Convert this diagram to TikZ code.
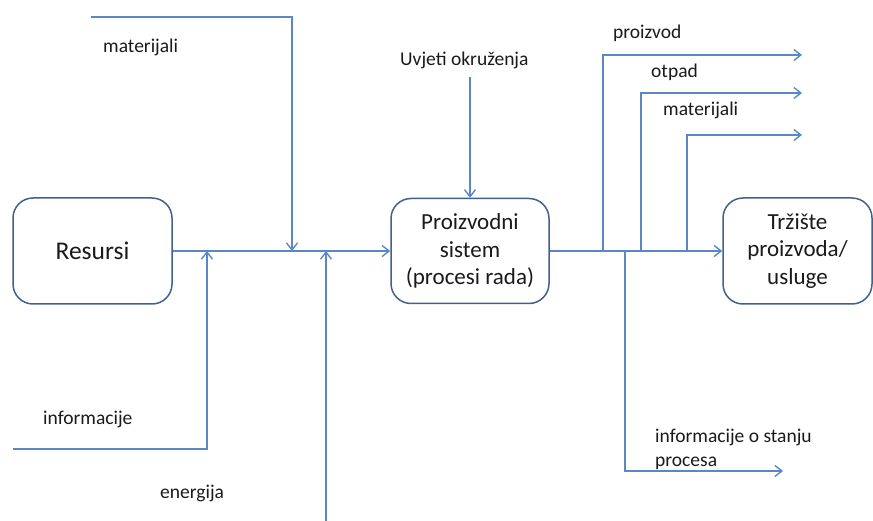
\documentclass[tikz,border=0pt]{standalone}
\usepackage{fontspec}
\setmainfont{Carlito}
\usetikzlibrary{arrows.meta}
\definecolor{linec}{HTML}{5B87C5}
\definecolor{boxc}{HTML}{41618C}
\definecolor{txtc}{HTML}{1A1A1A}
\begin{document}
\begin{tikzpicture}[x=1pt,y=-1pt,
 flow/.style={draw=linec, line width=1.6pt},
 arr/.style={flow, -{Straight Barb[length=7pt,width=11pt,line width=1.4pt]}},
 box/.style={draw=boxc, line width=1.5pt, rounded corners=20pt, align=center, inner sep=0pt, text=txtc, font=\fontsize{23}{27.5}\selectfont},
 lbl/.style={inner sep=0pt, anchor=base west, text=txtc, align=left, font=\fontsize{19.5}{24}\selectfont}]
\useasboundingbox (0,0) rectangle (873,521);
% boxes
\node[box, minimum width=159pt, minimum height=106pt, font=\fontsize{25.5}{30}\selectfont] (res) at (92.5,251) {Resursi};
\node[box, minimum width=158pt, minimum height=105pt] (ps) at (470,251) {Proizvodni\\sistem\\(procesi rada)};
\node[box, minimum width=149pt, minimum height=106pt] (mk) at (797.5,251) {Tržište\\proizvoda/\\usluge};
% labels
\node[lbl] (lmat) at (103,53) {materijali};
\node[lbl] (linf) at (43,424) {informacije};
\node[lbl] (lene) at (160,498) {energija};
\node[lbl] (luv) at (400,66) {Uvjeti okruženja};
\node[lbl] (lpro) at (613,39) {proizvod};
\node[lbl] (lotp) at (651,78) {otpad};
\node[lbl] (lmat2) at (663,116) {materijali};
\node[lbl] (linf2) at (655,466) {informacije o stanju\\procesa};
% coordinates
\coordinate (m0) at (91,17);
\coordinate (m1) at (292,251);
\coordinate (i0) at (13,449);
\coordinate (i1) at (207,251);
\coordinate (e0) at (326,530);
\coordinate (e1) at (326,251);
\coordinate (u0) at (470,77);
\coordinate (b1) at (603,251);
\coordinate (b2) at (641,251);
\coordinate (b3) at (687,251);
\coordinate (b4) at (625,251);
\coordinate (p1) at (802,55);
\coordinate (p2) at (802,93);
\coordinate (p3) at (802,135);
\coordinate (p4) at (783,471);
% connectors
\draw[arr] (res.east) -- (ps.west);
\draw[arr] (m0) -| (m1);
\draw[arr] (i0) -| (i1);
\draw[arr] (e0) -- (e1);
\draw[arr] (u0) -- (ps.north);
\draw[arr] (ps.east) -- (mk.west);
\draw[arr] (b1) |- (p1);
\draw[arr] (b2) |- (p2);
\draw[arr] (b3) |- (p3);
\draw[arr] (b4) |- (p4);
\end{tikzpicture}
\end{document}
